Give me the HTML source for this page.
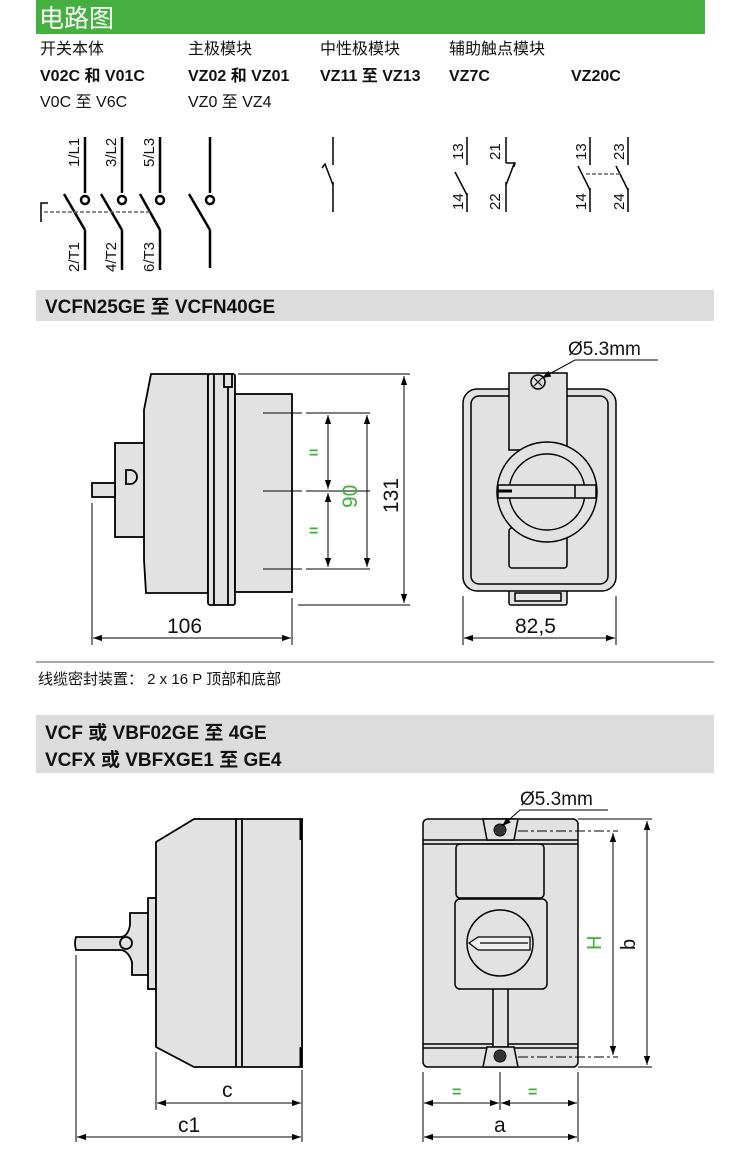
<!DOCTYPE html>
<html><head><meta charset="utf-8"><style>
body{margin:0;background:#fff;}
svg{display:block;font-family:"Liberation Sans","Noto Sans CJK SC",sans-serif;}
</style></head><body>
<svg width="750" height="1168" viewBox="0 0 750 1168" xmlns="http://www.w3.org/2000/svg">
<defs>
<marker id="a" viewBox="0 0 10 10" refX="10" refY="5" markerWidth="9" markerHeight="9" orient="auto-start-reverse" markerUnits="userSpaceOnUse"><path d="M0,1.5 L10,5 L0,8.5 z" fill="#000"/></marker>
</defs>
<rect x="36" y="0" width="669" height="34" fill="#45b03f"/>
<text x="39" y="27" font-size="25" fill="#fff">电路图</text>
<g font-size="16" fill="#111">
<text x="40" y="54">开关本体</text><text x="188" y="54">主极模块</text><text x="320" y="54">中性极模块</text><text x="449" y="54">辅助触点模块</text>
</g>
<g font-size="16" font-weight="bold" fill="#111">
<text x="40" y="81">V02C 和 V01C</text><text x="188" y="81">VZ02 和 VZ01</text><text x="320" y="81">VZ11 至 VZ13</text><text x="449" y="81">VZ7C</text><text x="571" y="81">VZ20C</text>
</g>
<g font-size="16" fill="#111"><text x="40" y="107">V0C 至 V6C</text><text x="188" y="107">VZ0 至 VZ4</text></g>
<!-- circuits -->
<g stroke="#000" stroke-width="2.5" fill="none">
<line x1="85" y1="137" x2="85" y2="193"/><circle cx="85" cy="200" r="4"/><line x1="64" y1="194" x2="85" y2="230"/><line x1="85" y1="230" x2="85" y2="270"/>
<line x1="122" y1="137" x2="122" y2="193"/><circle cx="122" cy="200" r="4"/><line x1="101" y1="194" x2="122" y2="230"/><line x1="122" y1="230" x2="122" y2="270"/>
<line x1="160" y1="137" x2="160" y2="193"/><circle cx="160" cy="200" r="4"/><line x1="140" y1="194" x2="160" y2="230"/><line x1="160" y1="230" x2="160" y2="270"/>
<line x1="210" y1="137" x2="210" y2="193"/><circle cx="210" cy="200" r="4"/><line x1="189" y1="194" x2="210" y2="230"/><line x1="210" y1="230" x2="210" y2="268"/>
</g>
<g stroke="#000" stroke-width="1.5" fill="none">
<polyline points="41,222 41,203 48,203"/>
<line x1="44" y1="212" x2="150" y2="212" stroke="#666" stroke-dasharray="4,2"/>
<line x1="333" y1="137" x2="333" y2="165"/><polyline points="322,168 325,164 333,185"/><line x1="333" y1="182" x2="333" y2="212"/>
<line x1="467" y1="137" x2="467" y2="165"/><line x1="455" y1="172" x2="467" y2="195"/><line x1="467" y1="193" x2="467" y2="212"/>
<line x1="506" y1="137" x2="506" y2="163"/><polyline points="506,163 508,163 515,163 514,167"/><line x1="514" y1="164" x2="506" y2="185"/><line x1="506" y1="182" x2="506" y2="212"/>
<line x1="590" y1="137" x2="590" y2="165"/><line x1="578" y1="166" x2="590" y2="190"/><line x1="590" y1="188" x2="590" y2="212"/>
<line x1="628" y1="137" x2="628" y2="165"/><line x1="616" y1="166" x2="628" y2="190"/><line x1="628" y1="188" x2="628" y2="212"/>
<line x1="586" y1="174" x2="622" y2="174" stroke="#666" stroke-dasharray="4,2"/>
</g>
<g font-size="15" fill="#111">
<text transform="translate(79,167) rotate(-90)">1/L1</text>
<text transform="translate(116,167) rotate(-90)">3/L2</text>
<text transform="translate(154,167) rotate(-90)">5/L3</text>
<text transform="translate(79,272) rotate(-90)">2/T1</text>
<text transform="translate(116,272) rotate(-90)">4/T2</text>
<text transform="translate(154,272) rotate(-90)">6/T3</text>
<text transform="translate(463,160) rotate(-90)">13</text>
<text transform="translate(463,210) rotate(-90)">14</text>
<text transform="translate(500,160) rotate(-90)">21</text>
<text transform="translate(500,210) rotate(-90)">22</text>
<text transform="translate(586,160) rotate(-90)">13</text>
<text transform="translate(586,210) rotate(-90)">14</text>
<text transform="translate(624,160) rotate(-90)">23</text>
<text transform="translate(624,210) rotate(-90)">24</text>
</g>
<!-- band 1 -->
<rect x="36" y="290" width="678" height="31" fill="#dcdcdc"/>
<text x="45" y="313" font-size="19" font-weight="bold" fill="#111">VCFN25GE 至 VCFN40GE</text>
<!-- drawing 1 side -->
<g stroke="#000" stroke-width="1.8" fill="#e2e2e2">
<rect x="115" y="443" width="31" height="94"/>
<rect x="92" y="483" width="23" height="14"/>
<path d="M130,470 a6,6 0 0 1 0,14 h-4 v-14z"/>
<path d="M151,374 H208 V593 H146 L144,560 V410 Z"/>
<rect x="208" y="374" width="27" height="231" rx="2"/>
<line x1="214" y1="374" x2="214" y2="605"/><line x1="228" y1="374" x2="228" y2="605"/>
<rect x="224" y="374" width="8" height="13"/>
<rect x="235" y="394" width="57" height="198"/>
</g>
<g stroke="#000" stroke-width="1" fill="none">
<line x1="263" y1="413" x2="302" y2="413"/><line x1="306" y1="413" x2="370" y2="413"/>
<line x1="263" y1="491" x2="302" y2="491"/><line x1="306" y1="491" x2="370" y2="491"/>
<line x1="263" y1="569" x2="302" y2="569"/><line x1="306" y1="569" x2="370" y2="569"/>
<line x1="328" y1="415" x2="328" y2="489" marker-start="url(#a)" marker-end="url(#a)"/>
<line x1="328" y1="493" x2="328" y2="567" marker-start="url(#a)" marker-end="url(#a)"/>
<line x1="367" y1="415" x2="367" y2="567" marker-start="url(#a)" marker-end="url(#a)"/>
<line x1="238" y1="374" x2="410" y2="374"/><line x1="298" y1="605" x2="410" y2="605"/>
<line x1="404" y1="376" x2="404" y2="603" marker-start="url(#a)" marker-end="url(#a)"/>
<line x1="92" y1="503" x2="92" y2="645"/><line x1="292" y1="598" x2="292" y2="645"/>
<line x1="93" y1="638" x2="291" y2="638" marker-start="url(#a)" marker-end="url(#a)"/>
</g>
<g font-size="16" fill="#3db03a" font-weight="bold"><text x="309" y="458">=</text><text x="309" y="536">=</text></g>
<text transform="translate(357,508) rotate(-90)" font-size="21" fill="#3db03a">90</text>
<text transform="translate(398,513) rotate(-90)" font-size="21" fill="#111">131</text>
<text x="167" y="633" font-size="21" fill="#111">106</text>
<!-- drawing 1 front -->
<g stroke="#000" stroke-width="1.5" fill="#e2e2e2">
<rect x="509" y="585" width="58" height="20" rx="2"/>
<rect x="515" y="593" width="46" height="8" fill="#e8e8e8"/>
<rect x="463" y="389" width="153" height="202" rx="14"/>
<rect x="471" y="396" width="137" height="188" rx="8"/>
<rect x="509" y="528" width="58" height="40" rx="3"/>
<path d="M509,373 H567 V450 H509 Z" />
<circle cx="547" cy="492" r="50"/>
<circle cx="547" cy="492" r="38"/>
<rect x="498" y="485" width="98" height="13" fill="#e2e2e2"/>
<line x1="575" y1="485" x2="575" y2="498"/>
<circle cx="538" cy="382" r="7"/>
</g>
<line x1="498" y1="491" x2="512" y2="491" stroke="#000" stroke-width="3"/>
<path d="M534,378 l8,8 M542,378 l-8,8" stroke="#000" stroke-width="1.2"/>
<g stroke="#000" stroke-width="1" fill="none">
<polyline points="542,378 575,360 658,360" marker-start="url(#a)"/>
<line x1="463" y1="596" x2="463" y2="645"/><line x1="616" y1="596" x2="616" y2="645"/>
<line x1="464" y1="638" x2="615" y2="638" marker-start="url(#a)" marker-end="url(#a)"/>
</g>
<text x="568" y="355" font-size="19" fill="#111">Ø5.3mm</text>
<text x="515" y="633" font-size="21" fill="#111">82,5</text>
<line x1="36" y1="662" x2="714" y2="662" stroke="#555" stroke-width="1"/>
<text x="38" y="684" font-size="15" fill="#111">线缆密封装置： 2 x 16 P 顶部和底部</text>
<!-- band 2 -->
<rect x="36" y="715" width="678" height="58" fill="#dcdcdc"/>
<text x="45" y="739" font-size="19" font-weight="bold" fill="#111">VCF 或 VBF02GE 至 4GE</text>
<text x="45" y="766" font-size="19" font-weight="bold" fill="#111">VCFX 或 VBFXGE1 至 GE4</text>
<!-- drawing 2 side -->
<g stroke="#000" stroke-width="1.8" fill="#e2e2e2">
<path d="M76,937 H120 Q128,937 130,925 V913 H148 V975 H132 V962 Q128,950 120,950 H76 Q74,943 76,937 Z"/>
<circle cx="126" cy="943" r="6"/>
<rect x="148" y="898" width="8" height="91"/>
<path d="M156,842 L194,819 H302 V1067 H194 L156,1047 Z"/>
<line x1="236" y1="819" x2="236" y2="1067"/><line x1="242" y1="819" x2="242" y2="1067"/>
</g>
<line x1="301" y1="819" x2="301" y2="840" stroke="#000" stroke-width="3"/>
<line x1="301" y1="1047" x2="301" y2="1067" stroke="#000" stroke-width="3"/>
<g stroke="#000" stroke-width="1" fill="none">
<line x1="156" y1="1052" x2="156" y2="1110"/><line x1="302" y1="1070" x2="302" y2="1142"/>
<line x1="76" y1="955" x2="76" y2="1142"/>
<line x1="157" y1="1103" x2="301" y2="1103" marker-start="url(#a)" marker-end="url(#a)"/>
<line x1="77" y1="1137" x2="301" y2="1137" marker-start="url(#a)" marker-end="url(#a)"/>
</g>
<text x="222" y="1097" font-size="21" fill="#111">c</text>
<text x="178" y="1132" font-size="21" fill="#111">c1</text>
<!-- drawing 2 front -->
<g stroke="#000" stroke-width="1.5" fill="#e2e2e2">
<rect x="423" y="819" width="155" height="248" rx="5"/>
<line x1="423" y1="840" x2="578" y2="840"/><line x1="423" y1="844" x2="578" y2="844"/>
<line x1="423" y1="1044" x2="578" y2="1044"/><line x1="423" y1="1048" x2="578" y2="1048"/>
<rect x="493" y="985" width="15" height="62"/>
<rect x="456" y="844" width="88" height="54" rx="4"/>
<rect x="455" y="899" width="92" height="90" rx="5"/>
<circle cx="500" cy="943" r="33"/>
<path d="M483,819 H518 L514,840 H487 Z"/>
<path d="M487,1047 H514 L518,1067 H483 Z"/>
</g>
<circle cx="500" cy="830" r="6" fill="#333" stroke="#000"/>
<circle cx="500" cy="1056" r="6" fill="#333" stroke="#000"/>
<g stroke="#000" stroke-width="1.3" fill="#f0f0f0">
<path d="M469,943 L478,937 H530 V950 H478 Z"/>
<line x1="480" y1="943" x2="528" y2="943"/>
</g>
<g stroke="#000" stroke-width="1" fill="none">
<polyline points="502,826 520,810 608,810" marker-start="url(#a)"/>
<line x1="518" y1="831" x2="618" y2="831" stroke-dasharray="10,3,3,3"/>
<line x1="518" y1="1057" x2="618" y2="1057" stroke-dasharray="10,3,3,3"/>
<line x1="578" y1="819" x2="652" y2="819"/><line x1="578" y1="1067" x2="652" y2="1067"/>
<line x1="613" y1="833" x2="613" y2="1055" marker-start="url(#a)" marker-end="url(#a)"/>
<line x1="647" y1="821" x2="647" y2="1065" marker-start="url(#a)" marker-end="url(#a)"/>
<line x1="423" y1="1072" x2="423" y2="1142"/><line x1="578" y1="1072" x2="578" y2="1142"/>
<line x1="500" y1="1072" x2="500" y2="1110"/>
<line x1="424" y1="1103" x2="499" y2="1103" marker-start="url(#a)" marker-end="url(#a)"/>
<line x1="501" y1="1103" x2="577" y2="1103" marker-start="url(#a)" marker-end="url(#a)"/>
<line x1="424" y1="1137" x2="577" y2="1137" marker-start="url(#a)" marker-end="url(#a)"/>
</g>
<text x="520" y="805" font-size="19" fill="#111">Ø5.3mm</text>
<text transform="translate(601,950) rotate(-90)" font-size="20" fill="#3db03a">H</text>
<text transform="translate(635,950) rotate(-90)" font-size="20" fill="#111">b</text>
<g font-size="16" fill="#3db03a" font-weight="bold"><text x="452" y="1097">=</text><text x="528" y="1097">=</text></g>
<text x="494" y="1132" font-size="21" fill="#111">a</text>
</svg>
</body></html>
